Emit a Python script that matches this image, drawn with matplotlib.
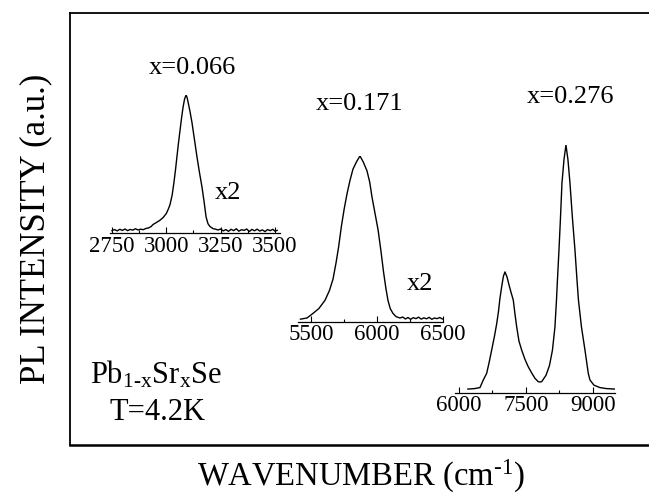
import matplotlib
matplotlib.use('Agg')
from matplotlib import pyplot as plt
from matplotlib.ticker import MultipleLocator

plt.rcParams['font.family'] = ['Liberation Serif', 'DejaVu Serif']
plt.rcParams['mathtext.fontset'] = 'custom'
plt.rcParams['mathtext.rm'] = 'Liberation Serif'
plt.rcParams['mathtext.it'] = 'Liberation Serif:italic'

# x=0.066 spectrum (wavenumber cm-1, PL intensity normalised)
wn_066 = [2750, 2762, 2774, 2786, 2798, 2810, 2822, 2834, 2846, 2858, 2870, 2882, 2894, 2906,
          2918, 2930, 2939, 2955, 2970, 2985, 3000, 3010, 3017, 3027, 3035, 3042, 3049, 3056,
          3063, 3070, 3077, 3084, 3091, 3096, 3100, 3109, 3118, 3130, 3141, 3152, 3164, 3174,
          3183, 3192, 3201, 3215, 3228, 3238, 3250, 3262, 3274, 3286, 3298, 3310, 3322, 3334,
          3346, 3358, 3370, 3382, 3394, 3406, 3418, 3430, 3442, 3454, 3466, 3478, 3490, 3500, 3510]
pl_066 = [0.010, 0.018, 0.008, 0.020, 0.012, 0.022, 0.010, 0.019, 0.014, 0.024, 0.015, 0.021, 0.017, 0.026,
          0.030, 0.040, 0.055, 0.070, 0.085, 0.105, 0.135, 0.17, 0.20, 0.27, 0.36, 0.45, 0.55, 0.65,
          0.74, 0.83, 0.91, 0.97, 1.0, 0.98, 0.95, 0.88, 0.80, 0.67, 0.55, 0.44, 0.33, 0.22,
          0.11, 0.06, 0.04, 0.025, 0.02, 0.015, 0.022, 0.008, 0.018, 0.005, 0.020, 0.010, 0.024, 0.006,
          0.017, 0.012, 0.022, 0.004, 0.019, 0.009, 0.021, 0.007, 0.016, 0.003, 0.018, 0.010, 0.020, 0.006, 0.012]

# x=0.171 spectrum
wn_171 = [5420, 5470, 5515, 5560, 5606, 5640, 5667, 5690, 5710, 5730, 5752, 5773, 5795, 5818, 5845,
          5871, 5895, 5924, 5945, 5962, 5985, 6008, 6030, 6050, 6068, 6083, 6100, 6121, 6145, 6174,
          6195, 6215, 6235, 6255, 6275, 6295, 6315, 6335, 6355, 6375, 6395, 6415, 6435, 6455, 6475, 6495]
pl_171 = [0.005, 0.012, 0.04, 0.07, 0.12, 0.18, 0.25, 0.35, 0.45, 0.57, 0.68, 0.77, 0.85, 0.92, 0.965,
          1.0, 0.965, 0.91, 0.84, 0.75, 0.65, 0.55, 0.42, 0.29, 0.19, 0.12, 0.07, 0.04, 0.02, 0.012,
          0.018, 0.006, 0.015, 0.004, 0.014, 0.008, 0.017, 0.005, 0.013, 0.007, 0.016, 0.004, 0.012, 0.008, 0.015, 0.006]

# x=0.276 spectrum (two peaks)
wn_276 = [6200, 6350, 6470, 6544, 6620, 6672, 6732, 6795, 6844, 6884, 6918, 6963, 6996, 7030, 7075,
          7119, 7164, 7216, 7254, 7292, 7343, 7404, 7478, 7551, 7634, 7701, 7775, 7813, 7851, 7948,
          8026, 8093, 8149, 8183, 8205, 8239, 8272, 8306, 8351, 8395, 8440, 8485, 8541, 8597, 8642,
          8675, 8742, 8821, 8895, 8933, 9022, 9156, 9300, 9492]
pl_276 = [0.004, 0.006, 0.010, 0.041, 0.068, 0.11, 0.163, 0.22, 0.27, 0.32, 0.375, 0.43, 0.465, 0.482, 0.462,
          0.43, 0.40, 0.367, 0.31, 0.258, 0.20, 0.163, 0.125, 0.095, 0.068, 0.048, 0.034, 0.033, 0.034, 0.06,
          0.10, 0.163, 0.258, 0.367, 0.45, 0.571, 0.70, 0.845, 0.94, 1.0, 0.94, 0.845, 0.70, 0.571, 0.45,
          0.367, 0.258, 0.163, 0.068, 0.041, 0.02, 0.01, 0.006, 0.004]

W, H = 649, 498


def px_rect(x0, y_top, x1, y_bot):
    return [x0 / W, 1 - y_bot / H, (x1 - x0) / W, (y_bot - y_top) / H]


fig = plt.figure(figsize=(W / 100, H / 100), dpi=100)

# outer frame
frame = fig.add_axes(px_rect(70, 13, 652, 445))
frame.set_xticks([])
frame.set_yticks([])
for s in frame.spines.values():
    s.set_linewidth(1.3)
frame.spines['bottom'].set_linewidth(1.8)
frame.spines['right'].set_visible(False)
frame.set_xlabel(r'WAVENUMBER (cm$^{\mathrm{\text{-}1}}$)', fontsize=23.5, labelpad=9)
frame.set_ylabel('PL INTENSITY (a.u.)', fontsize=25, labelpad=13)


def inset(rect, wn, pl, xlim, major, minor):
    ax = fig.add_axes(rect)
    ax.patch.set_alpha(0)
    ax.plot(wn, pl, color='black', lw=1.0)
    ax.set_xlim(xlim)
    ax.set_ylim(-0.01, 1.0)
    for s in ['top', 'right', 'left']:
        ax.spines[s].set_visible(False)
    ax.spines['bottom'].set_linewidth(0.9)
    ax.set_yticks([])
    ax.xaxis.set_major_locator(MultipleLocator(major))
    ax.xaxis.set_minor_locator(MultipleLocator(minor))
    ax.tick_params(axis='x', which='major', direction='in', length=4, width=0.8, labelsize=16.5, pad=2)
    ax.tick_params(axis='x', which='minor', direction='in', length=2.5, width=0.8)
    return ax


inset(px_rect(109.8, 95, 280.4, 233.4), wn_066, pl_066, (2740, 3525), 250, 125)
inset(px_rect(297.8, 156, 443, 321.6), wn_171, pl_171, (5400, 6500), 500, 250)
inset(px_rect(454.5, 145, 615.3, 392.5), wn_276, pl_276, (5900, 9500), 1500, 750)

fig.text(192 / W, 1 - 68 / H, 'x=0.066', fontsize=19, ha='center', va='center')
fig.text(228 / W, 1 - 193 / H, 'x2', fontsize=19, ha='center', va='center')
fig.text(360 / W, 1 - 104 / H, 'x=0.171', fontsize=19, ha='center', va='center')
fig.text(420 / W, 1 - 284 / H, 'x2', fontsize=19, ha='center', va='center')
fig.text(571 / W, 1 - 97 / H, 'x=0.276', fontsize=19, ha='center', va='center')

fig.text(90 / W, 1 - 375 / H, r'Pb$_{\mathrm{1\text{-}x}}$Sr$_{\mathrm{x}}$Se', fontsize=22, ha='left', va='center')
fig.text(110 / W, 1 - 412 / H, 'T=4.2K', fontsize=22, ha='left', va='center')

fig.savefig('out.png', dpi=100)
